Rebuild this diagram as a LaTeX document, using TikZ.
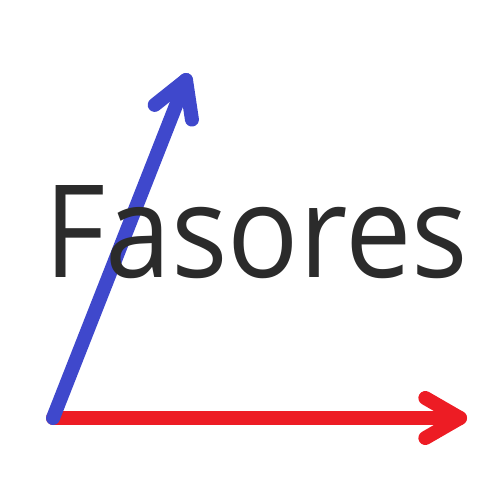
\documentclass[tikz,border=0pt]{standalone}
\usepackage{fontspec}
\setmainfont{Open Sans}
\usetikzlibrary{calc}
\definecolor{arrred}{HTML}{ED1C24}
\definecolor{arrblue}{HTML}{3F48CC}
\definecolor{txtgray}{HTML}{2B2B2B}
\tikzset{
  vec/.style={line width=14pt, line cap=round, line join=round},
}
\begin{document}
\begin{tikzpicture}[x=1pt,y=-1pt]
\useasboundingbox (0,0) rectangle (500,500);
\coordinate (o) at (53,418);
\coordinate (r) at (460,418);
\coordinate (b) at (186,80);
\draw[vec, arrred] (o) -- (r);
\draw[vec, arrred] ($(r)!40pt!30:(o)$) -- (r) -- ($(r)!40pt!-30:(o)$);
\draw[vec, arrblue] (o) -- (b);
\draw[vec, arrblue] ($(b)!40pt!30:(o)$) -- (b) -- ($(b)!40pt!-30:(o)$);
\node[anchor=base west, inner sep=0pt, text=txtgray] (t) at (44,277) {\resizebox{424pt}{92pt}{\fontsize{129}{140}\selectfont Fasores}};
\end{tikzpicture}
\end{document}
